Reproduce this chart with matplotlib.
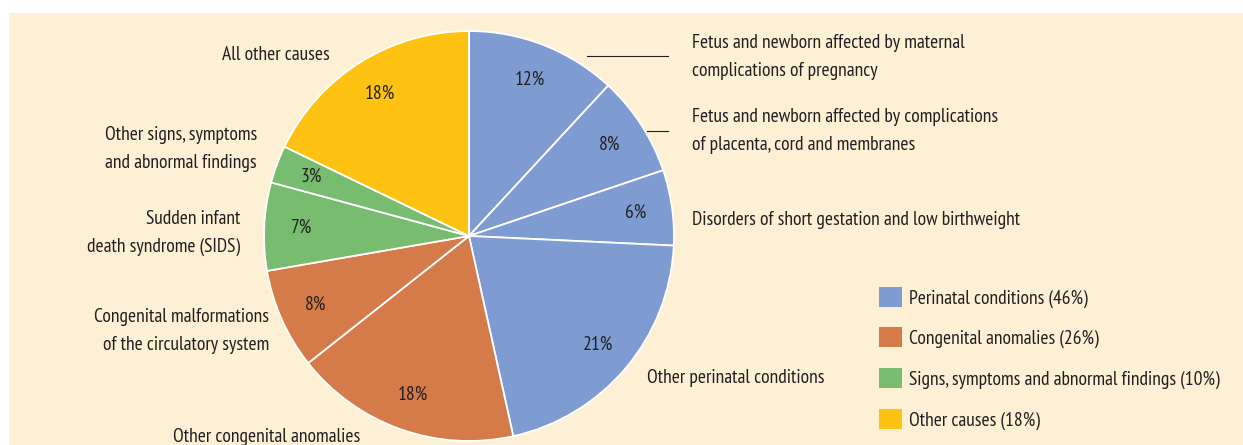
import matplotlib
matplotlib.use('Agg')
import matplotlib.pyplot as plt
from matplotlib.patches import Rectangle, Patch

plt.rcParams['font.family'] = ['PT Sans Narrow', 'DejaVu Sans']

# data (clockwise from 12 o'clock)
causes = ['Fetus and newborn affected by maternal\ncomplications of pregnancy',
          'Fetus and newborn affected by complications\nof placenta, cord and membranes',
          'Disorders of short gestation and low birthweight',
          'Other perinatal conditions',
          'Other congenital anomalies',
          'Congenital malformations\nof the circulatory system',
          'Sudden infant\ndeath syndrome (SIDS)',
          'Other signs, symptoms\nand abnormal findings',
          'All other causes']
shares = [12, 8, 6, 21, 18, 8, 7, 3, 18]
groups = [0, 0, 0, 0, 1, 1, 2, 2, 3]
group_names = ['Perinatal conditions (46%)', 'Congenital anomalies (26%)',
               'Signs, symptoms and abnormal findings (10%)', 'Other causes (18%)']
group_colors = ['#7F9CD2', '#D57B4A', '#77BC6F', '#FDC212']

cream = '#FEF0D5'
ink = '#231F20'
W, H = 1243, 445
fs = 14

fig = plt.figure(figsize=(W / 100, H / 100), dpi=100, facecolor='white')
fig.patches.append(Rectangle((9 / W, 0), 1, (H - 13) / H, transform=fig.transFigure,
                             facecolor=cream, edgecolor='none', zorder=-5))

ax = fig.add_axes([264 / W, 4 / H, 410 / W, 410 / H])
ax.set_zorder(2)
ax.patch.set_visible(False)
wedges, _, autotexts = ax.pie(shares, colors=[group_colors[g] for g in groups],
                              startangle=90, counterclock=False, autopct=lambda p: '',
                              pctdistance=0.82,
                              wedgeprops=dict(edgecolor='white', linewidth=1.3))
for t, v in zip(autotexts, shares):
    t.set_text(f'{v}%')
    t.set_fontsize(fs)
    t.set_color(ink)
for w in wedges:
    w.set_clip_on(False)
ax.set_xlim(-1, 1)
ax.set_ylim(-1, 1)
ax.set_aspect('equal')


def px(x, y):
    return x / W, 1 - y / H


label_pos = [(692, 57, 'left'), (692, 131, 'left'), (692, 220, 'left'),
             (647, 378, 'left'), (267, 437, 'center'), (269, 331, 'right'),
             (240, 233, 'right'), (257, 149, 'right'), (276, 55, 'center')]
for text, (x, y, ha) in zip(causes, label_pos):
    fig.text(*px(x, y), text, ha=ha, va='center', fontsize=fs, color=ink,
             linespacing=1.65)

# leader lines
fig.add_artist(plt.Line2D([587 / W, 668 / W], [1 - 56 / H, 1 - 56 / H], color=ink, lw=0.8))
fig.add_artist(plt.Line2D([647 / W, 668 / W], [1 - 131 / H, 1 - 131 / H], color=ink, lw=0.8))

handles = [Patch(facecolor=c, edgecolor='none') for c in group_colors]
fig.legend(handles, group_names, loc='upper left', bbox_to_anchor=(871 / W, 1 - 279 / H),
           frameon=False, fontsize=fs, handlelength=1.2, handleheight=1.2,
           labelspacing=1.02, handletextpad=0.35, labelcolor=ink, borderaxespad=0)

fig.savefig('out.png', dpi=100, facecolor='white')
